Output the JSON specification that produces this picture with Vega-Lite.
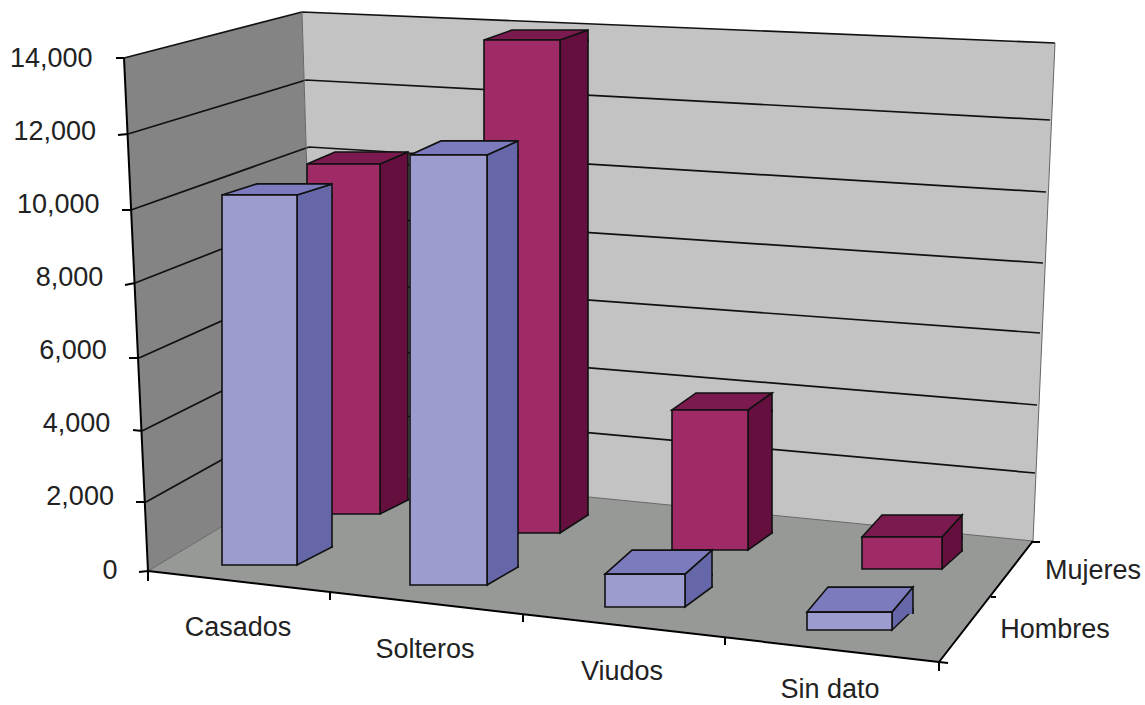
{
"$schema":"https://vega.github.io/schema/vega-lite/v6.json",
"width":1025,"height":512,
"autosize":{"type":"none"},
"padding":{"left":120,"top":58,"right":0,"bottom":135},
"background":"white",
"config":{"view":{"stroke":null},"font":"Liberation Sans"},
"data":{"values":[
{"categoria":"Casados","serie":"Hombres","valor":10120},
{"categoria":"Solteros","serie":"Hombres","valor":11760},
{"categoria":"Viudos","serie":"Hombres","valor":900},
{"categoria":"Sin dato","serie":"Hombres","valor":490},
{"categoria":"Casados","serie":"Mujeres","valor":9570},
{"categoria":"Solteros","serie":"Mujeres","valor":13480},
{"categoria":"Viudos","serie":"Mujeres","valor":3830},
{"categoria":"Sin dato","serie":"Mujeres","valor":875}
]},
"encoding":{
"x":{"field":"categoria","type":"nominal","axis":null,"sort":null,"scale":{"domain":["Casados","Solteros","Viudos","Sin dato"],"range":[96,888],"paddingInner":0,"paddingOuter":0}},
"y":{"field":"valor","type":"quantitative","scale":{"domain":[0,14000],"nice":false},"axis":{"title":null,"grid":false,"domain":false,"ticks":false,"values":[0,2000,4000,6000,8000,10000,12000,14000],"format":",d","labelFont":"Liberation Sans","labelFontSize":27,"labelColor":"#222222","labelPadding":{"expr":"3+25*datum.value/14000"}}}
},
"layer":[
{"transform":[{"filter":"datum.categoria==='Casados'&&datum.serie==='Hombres'"}],"mark":{"type":"point","filled":true,"opacity":1,"size":4,"fill":"#848484","shape":"M-191,-512 L-13,-558 L1,-100 L-167,1 Z"},"encoding":{"y":{"datum":0}}},
{"transform":[{"filter":"datum.categoria==='Casados'&&datum.serie==='Hombres'"}],"mark":{"type":"point","filled":true,"opacity":1,"size":4,"fill":"#c3c3c3","shape":"M-13,-558 L740,-527 L718,-29 L1,-100 Z"},"encoding":{"y":{"datum":0}}},
{"transform":[{"filter":"datum.categoria==='Casados'&&datum.serie==='Hombres'"}],"mark":{"type":"point","filled":true,"opacity":1,"size":4,"fill":"#979997","shape":"M-167,1 L1,-100 L718,-29 L624,92 Z"},"encoding":{"y":{"datum":0}}},
{"transform":[{"filter":"datum.categoria==='Casados'&&datum.serie==='Hombres'"}],"mark":{"type":"point","filled":false,"opacity":1,"size":4,"stroke":"#111111","strokeWidth":1.7,"shape":"M-13,-558 L740,-527 M-9,-490 L735,-450 M-6,-423 L731,-378 M-4,-356 L728,-307 M-2,-290 L725,-237 M-1,-225 L722,-165 M0,-162 L720,-97 M-191,-512 L-13,-558 M-187,-436 L-9,-490 M-184,-360 L-6,-423 M-180,-287 L-4,-356 M-176,-212 L-2,-290 M-173,-139 L-1,-225 M-169,-68 L0,-162"},"encoding":{"y":{"datum":0}}},
{"transform":[{"filter":"datum.categoria==='Casados'&&datum.serie==='Hombres'"}],"mark":{"type":"point","filled":false,"opacity":1,"size":4,"stroke":"#666666","strokeWidth":1,"shape":"M-167,1 L1,-100 L718,-29 M-13,-558 L1,-100 M740,-527 L718,-29"},"encoding":{"y":{"datum":0}}},
{"transform":[{"filter":"datum.categoria==='Casados'&&datum.serie==='Hombres'"}],"mark":{"type":"point","filled":false,"opacity":1,"size":4,"stroke":"#000000","strokeWidth":2,"shape":"M-191,-512 L-167,1 M-199,-512 L-191,-512 M-197,-435 L-187,-436 M-193,-360 L-184,-360 M-190,-285 L-180,-287 M-186,-212 L-176,-212 M-182,-140 L-173,-139 M-179,-68 L-169,-68 M-176,2 L-167,1 M-167,1 L-167,11 M-167,1 L624,92 M15,22 L15,30 M208,45 L208,52 M410,67 L410,75 M624,92 L624,101 M624,92 L718,-29 M624,92 L633,93 M676,27 L681,27 M716,-28 L725,-28"},"encoding":{"y":{"datum":0}}},

{"transform":[{"filter":"datum.categoria==='Casados'&&datum.serie==='Mujeres'"}],"mark":{"type":"bar","width":28,"xOffset":79,"yOffset":-56,"y2Offset":-70,"fill":"#650f3f","stroke":"#111111","strokeWidth":1.6},"encoding":{"y2":{"datum":0}}},
{"transform":[{"filter":"datum.categoria==='Solteros'&&datum.serie==='Mujeres'"}],"mark":{"type":"bar","width":28,"xOffset":61,"yOffset":-37,"y2Offset":-55,"fill":"#650f3f","stroke":"#111111","strokeWidth":1.6},"encoding":{"y2":{"datum":0}}},
{"transform":[{"filter":"datum.categoria==='Viudos'&&datum.serie==='Mujeres'"}],"mark":{"type":"bar","width":24,"xOffset":49,"yOffset":-20,"y2Offset":-37,"fill":"#650f3f","stroke":"#111111","strokeWidth":1.6},"encoding":{"y2":{"datum":0}}},
{"transform":[{"filter":"datum.categoria==='Sin dato'&&datum.serie==='Mujeres'"}],"mark":{"type":"bar","width":20,"xOffset":43,"yOffset":-1,"y2Offset":-19,"fill":"#650f3f","stroke":"#111111","strokeWidth":1.6},"encoding":{"y2":{"datum":0}}},
{"transform":[{"filter":"datum.serie==='Mujeres'"}],"mark":{"type":"point","filled":true,"opacity":1,"size":4,"fill":"#650f3f","stroke":"#111111","strokeWidth":1.6},"encoding":{"y":{"datum":0},"shape":{"condition":[{"test":"datum.categoria==='Casados'","value":"M93,-72 L93,-70 L65,-56 L65,-72"},{"test":"datum.categoria==='Solteros'","value":"M75,-57 L75,-55 L47,-37 L47,-57"},{"test":"datum.categoria==='Viudos'","value":"M61,-39 L61,-37 L37,-20 L37,-39"}],"value":"M53,-21 L53,-19 L33,-1 L33,-21"}}},
{"transform":[{"filter":"datum.serie==='Mujeres'"}],"mark":{"type":"point","filled":true,"opacity":1,"size":4,"fill":"#650f3f","stroke":"#111111","strokeWidth":1.6},"encoding":{"shape":{"condition":[{"test":"datum.categoria==='Casados'","value":"M65,-54 L65,-56 L93,-68 L93,-54"},{"test":"datum.categoria==='Solteros'","value":"M47,-35 L47,-37 L75,-47 L75,-35"},{"test":"datum.categoria==='Viudos'","value":"M37,-18 L37,-20 L61,-37 L61,-18"}],"value":"M33,1 L33,-1 L53,-23 L53,1"}}},
{"transform":[{"filter":"datum.serie==='Mujeres'"}],"mark":{"type":"point","filled":true,"opacity":1,"size":4,"fill":"#7b1a4f","stroke":"#111111","strokeWidth":1.6},"encoding":{"shape":{"condition":[{"test":"datum.categoria==='Casados'","value":"M-8,-56 L20,-68 L93,-68 L65,-56 Z"},{"test":"datum.categoria==='Solteros'","value":"M-29,-37 L-1,-47 L75,-47 L47,-37 Z"},{"test":"datum.categoria==='Viudos'","value":"M-39,-20 L-15,-37 L61,-37 L37,-20 Z"}],"value":"M-47,-1 L-27,-23 L53,-23 L33,-1 Z"}}},
{"transform":[{"filter":"datum.categoria==='Casados'&&datum.serie==='Mujeres'"}],"mark":{"type":"bar","width":73,"xOffset":28.5,"yOffset":-56,"y2Offset":-56,"fill":"#9e2a66","stroke":"#111111","strokeWidth":1.6},"encoding":{"y2":{"datum":0}}},
{"transform":[{"filter":"datum.categoria==='Solteros'&&datum.serie==='Mujeres'"}],"mark":{"type":"bar","width":76,"xOffset":9,"yOffset":-37,"y2Offset":-37,"fill":"#9e2a66","stroke":"#111111","strokeWidth":1.6},"encoding":{"y2":{"datum":0}}},
{"transform":[{"filter":"datum.categoria==='Viudos'&&datum.serie==='Mujeres'"}],"mark":{"type":"bar","width":76,"xOffset":-1,"yOffset":-20,"y2Offset":-20,"fill":"#9e2a66","stroke":"#111111","strokeWidth":1.6},"encoding":{"y2":{"datum":0}}},
{"transform":[{"filter":"datum.categoria==='Sin dato'&&datum.serie==='Mujeres'"}],"mark":{"type":"bar","width":80,"xOffset":-7,"yOffset":-1,"y2Offset":-1,"fill":"#9e2a66","stroke":"#111111","strokeWidth":1.6},"encoding":{"y2":{"datum":0}}},

{"transform":[{"filter":"datum.categoria==='Casados'&&datum.serie==='Hombres'"}],"mark":{"type":"bar","width":35,"xOffset":-0.5,"yOffset":-5,"y2Offset":-23,"fill":"#6567a8","stroke":"#111111","strokeWidth":1.6},"encoding":{"y2":{"datum":0}}},
{"transform":[{"filter":"datum.categoria==='Solteros'&&datum.serie==='Hombres'"}],"mark":{"type":"bar","width":31,"xOffset":-10.5,"yOffset":15,"y2Offset":-3,"fill":"#6567a8","stroke":"#111111","strokeWidth":1.6},"encoding":{"y2":{"datum":0}}},
{"transform":[{"filter":"datum.categoria==='Viudos'&&datum.serie==='Hombres'"}],"mark":{"type":"bar","width":27,"xOffset":-12.5,"yOffset":37,"y2Offset":17,"fill":"#6567a8","stroke":"#111111","strokeWidth":1.6},"encoding":{"y2":{"datum":0}}},
{"transform":[{"filter":"datum.categoria==='Sin dato'&&datum.serie==='Hombres'"}],"mark":{"type":"bar","width":21,"xOffset":-6.5,"yOffset":60,"y2Offset":40,"fill":"#6567a8","stroke":"#111111","strokeWidth":1.6},"encoding":{"y2":{"datum":0}}},
{"transform":[{"filter":"datum.serie==='Hombres'"}],"mark":{"type":"point","filled":true,"opacity":1,"size":4,"fill":"#6567a8","stroke":"#111111","strokeWidth":1.6},"encoding":{"y":{"datum":0},"shape":{"condition":[{"test":"datum.categoria==='Casados'","value":"M17,-25 L17,-23 L-18,-5 L-18,-25"},{"test":"datum.categoria==='Solteros'","value":"M5,-5 L5,-3 L-26,15 L-26,-5"},{"test":"datum.categoria==='Viudos'","value":"M1,15 L1,17 L-26,37 L-26,15"}],"value":"M4,38 L4,40 L-17,60 L-17,38"}}},
{"transform":[{"filter":"datum.serie==='Hombres'"}],"mark":{"type":"point","filled":true,"opacity":1,"size":4,"fill":"#6567a8","stroke":"#111111","strokeWidth":1.6},"encoding":{"shape":{"condition":[{"test":"datum.categoria==='Casados'","value":"M-18,-3 L-18,-5 L17,-16 L17,-3"},{"test":"datum.categoria==='Solteros'","value":"M-26,17 L-26,15 L5,1 L5,17"},{"test":"datum.categoria==='Viudos'","value":"M-26,39 L-26,37 L1,13 L1,39"}],"value":"M-17,62 L-17,60 L4,35 L4,62"}}},
{"transform":[{"filter":"datum.serie==='Hombres'"}],"mark":{"type":"point","filled":true,"opacity":1,"size":4,"fill":"#7b7bbd","stroke":"#111111","strokeWidth":1.6},"encoding":{"shape":{"condition":[{"test":"datum.categoria==='Casados'","value":"M-93,-5 L-58,-16 L17,-16 L-18,-5 Z"},{"test":"datum.categoria==='Solteros'","value":"M-103,15 L-72,1 L5,1 L-26,15 Z"},{"test":"datum.categoria==='Viudos'","value":"M-106,37 L-79,13 L1,13 L-26,37 Z"}],"value":"M-102,60 L-81,35 L4,35 L-17,60 Z"}}},
{"transform":[{"filter":"datum.categoria==='Casados'&&datum.serie==='Hombres'"}],"mark":{"type":"bar","width":75,"xOffset":-55.5,"yOffset":-5,"y2Offset":-5,"fill":"#9c9ccf","stroke":"#111111","strokeWidth":1.6},"encoding":{"y2":{"datum":0}}},
{"transform":[{"filter":"datum.categoria==='Solteros'&&datum.serie==='Hombres'"}],"mark":{"type":"bar","width":77,"xOffset":-64.5,"yOffset":15,"y2Offset":15,"fill":"#9c9ccf","stroke":"#111111","strokeWidth":1.6},"encoding":{"y2":{"datum":0}}},
{"transform":[{"filter":"datum.categoria==='Viudos'&&datum.serie==='Hombres'"}],"mark":{"type":"bar","width":80,"xOffset":-66,"yOffset":37,"y2Offset":37,"fill":"#9c9ccf","stroke":"#111111","strokeWidth":1.6},"encoding":{"y2":{"datum":0}}},
{"transform":[{"filter":"datum.categoria==='Sin dato'&&datum.serie==='Hombres'"}],"mark":{"type":"bar","width":85,"xOffset":-59.5,"yOffset":60,"y2Offset":60,"fill":"#9c9ccf","stroke":"#111111","strokeWidth":1.6},"encoding":{"y2":{"datum":0}}},

{"transform":[{"filter":"datum.categoria==='Casados'&&datum.serie==='Hombres'"}],"mark":{"type":"text","font":"Liberation Sans","fontSize":27,"fill":"#222222","dx":-77,"dy":58},"encoding":{"y":{"datum":0},"text":{"field":"categoria"}}},
{"transform":[{"filter":"datum.categoria==='Solteros'&&datum.serie==='Hombres'"}],"mark":{"type":"text","font":"Liberation Sans","fontSize":27,"fill":"#222222","dx":-88,"dy":80},"encoding":{"y":{"datum":0},"text":{"field":"categoria"}}},
{"transform":[{"filter":"datum.categoria==='Viudos'&&datum.serie==='Hombres'"}],"mark":{"type":"text","font":"Liberation Sans","fontSize":27,"fill":"#222222","dx":-89,"dy":102},"encoding":{"y":{"datum":0},"text":{"field":"categoria"}}},
{"transform":[{"filter":"datum.categoria==='Sin dato'&&datum.serie==='Hombres'"}],"mark":{"type":"text","font":"Liberation Sans","fontSize":27,"fill":"#222222","dx":-79,"dy":120},"encoding":{"y":{"datum":0},"text":{"field":"categoria"}}},
{"transform":[{"filter":"datum.categoria==='Sin dato'&&datum.serie==='Mujeres'"}],"mark":{"type":"text","font":"Liberation Sans","fontSize":27,"fill":"#222222","dx":184,"dy":1},"encoding":{"y":{"datum":0},"text":{"field":"serie"}}},
{"transform":[{"filter":"datum.categoria==='Sin dato'&&datum.serie==='Hombres'"}],"mark":{"type":"text","font":"Liberation Sans","fontSize":27,"fill":"#222222","dx":146,"dy":60},"encoding":{"y":{"datum":0},"text":{"field":"serie"}}}
]
}
